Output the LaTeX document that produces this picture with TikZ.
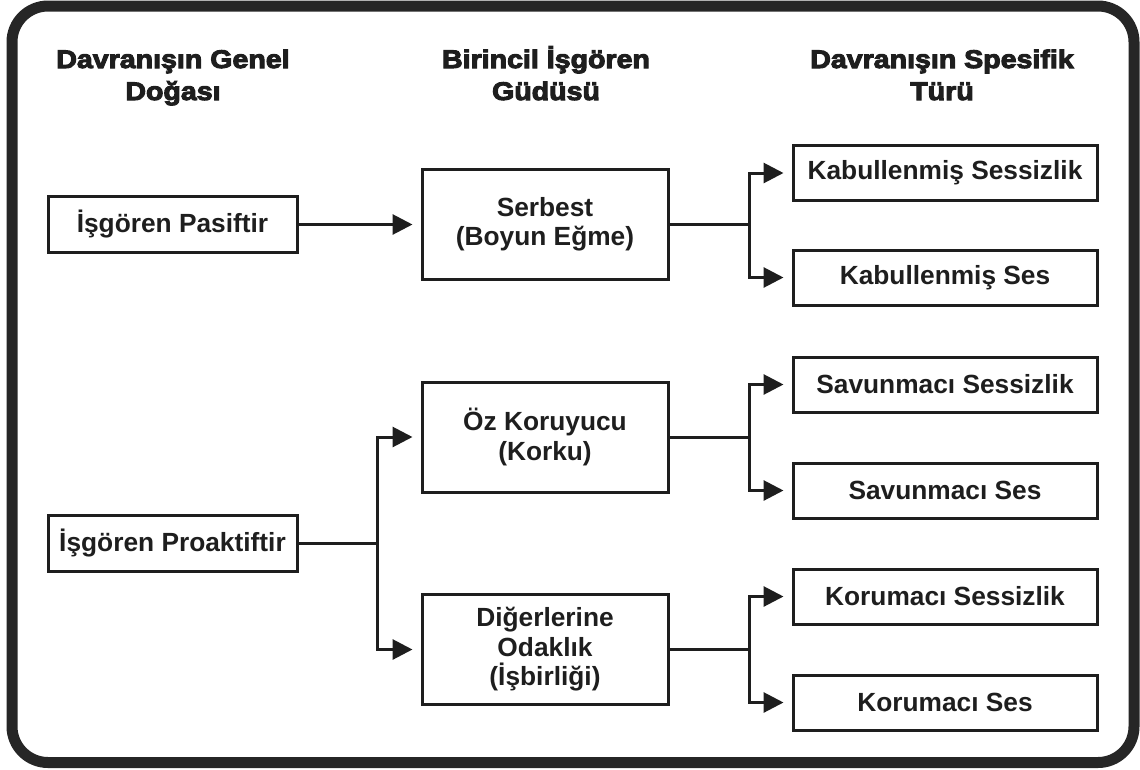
\documentclass[tikz,border=0pt]{standalone}
\usepackage{fontspec}
\setmainfont{Liberation Sans}
\newfontfamily\headfont[FakeBold=4,FakeStretch=1.12]{Liberation Sans Bold}
\usetikzlibrary{arrows.meta}
\definecolor{ink}{RGB}{30,30,30}
\definecolor{framec}{RGB}{38,38,38}
\newcommand\bodytxt{\bfseries\fontsize{26.3}{29.5}\selectfont}
\newcommand\headtxt{\headfont\fontsize{25.5}{32}\selectfont}

\begin{document}
\begin{tikzpicture}[x=1pt,y=-1pt,
  box/.style={draw=ink, line width=3pt, inner sep=0pt, align=center,
              font=\bodytxt, text=ink},
  srcbox/.style={box, minimum width=249pt, minimum height=56pt},
  motbox/.style={box, minimum width=246pt, minimum height=110pt},
  typbox/.style={box, minimum width=304pt, minimum height=55pt},
  head/.style={inner sep=0pt, font=\headtxt, text=ink, anchor=base},
  link/.style={draw=ink, line width=3pt},
  arr/.style={link, -{Triangle[length=20pt,width=20pt]}, shorten >=8pt}]

\useasboundingbox (0,0) rectangle (1140,769);

% outer frame
\draw[framec, line width=11pt, rounded corners=36pt] (12,6) rectangle (1134,762.5);

% column headings
\node[head] (h1) at (173,68) {\begin{tabular}[t]{@{}c@{}}Davranışın Genel\\Doğası\end{tabular}};
\node[head] (h2) at (546,68) {\begin{tabular}[t]{@{}c@{}}Birincil İşgören\\Güdüsü\end{tabular}};
\node[head] (h3) at (942,68) {\begin{tabular}[t]{@{}c@{}}Davranışın Spesifik\\Türü\end{tabular}};

% general nature of behaviour
\node[srcbox] (pas) at (172.5,224.5) {İşgören Pasiftir};
\node[srcbox] (pro) at (172.5,543.5) {İşgören Proaktiftir};

% primary motive
\node[motbox] (ser) at (545,224.5) {Serbest\\(Boyun Eğme)};
\node[motbox] (oz)  at (545,437)   {Öz Koruyucu\\(Korku)};
\node[motbox] (dig) at (545,649.5) {Diğerlerine\\Odaklık\\(İşbirliği)};

% specific type of behaviour
\node[typbox] (ks)    at (945,173)   {Kabullenmiş Sessizlik};
\node[typbox] (kses)  at (945,277.5) {Kabullenmiş Ses};
\node[typbox] (svs)   at (945,384.5) {Savunmacı Sessizlik};
\node[typbox] (svses) at (945,490.5) {Savunmacı Ses};
\node[typbox] (kos)   at (945,596.5) {Korumacı Sessizlik};
\node[typbox] (koses) at (945,702.5) {Korumacı Ses};

% branch points
\coordinate (jp) at (377,543.5);
\coordinate (js) at (749,224.5);
\coordinate (jo) at (749,437);
\coordinate (jd) at (749,649.5);

% connectors
\draw[arr] (pas.east) -- (ser.west);

\draw[arr] (pro.east) -- (jp) |- (oz.west);
\draw[arr] (jp) |- (dig.west);

\draw[arr] (ser.east) -- (js) |- (ks.west);
\draw[arr] (js) |- (kses.west);

\draw[arr] (oz.east) -- (jo) |- (svs.west);
\draw[arr] (jo) |- (svses.west);

\draw[arr] (dig.east) -- (jd) |- (kos.west);
\draw[arr] (jd) |- (koses.west);

\end{tikzpicture}
\end{document}
